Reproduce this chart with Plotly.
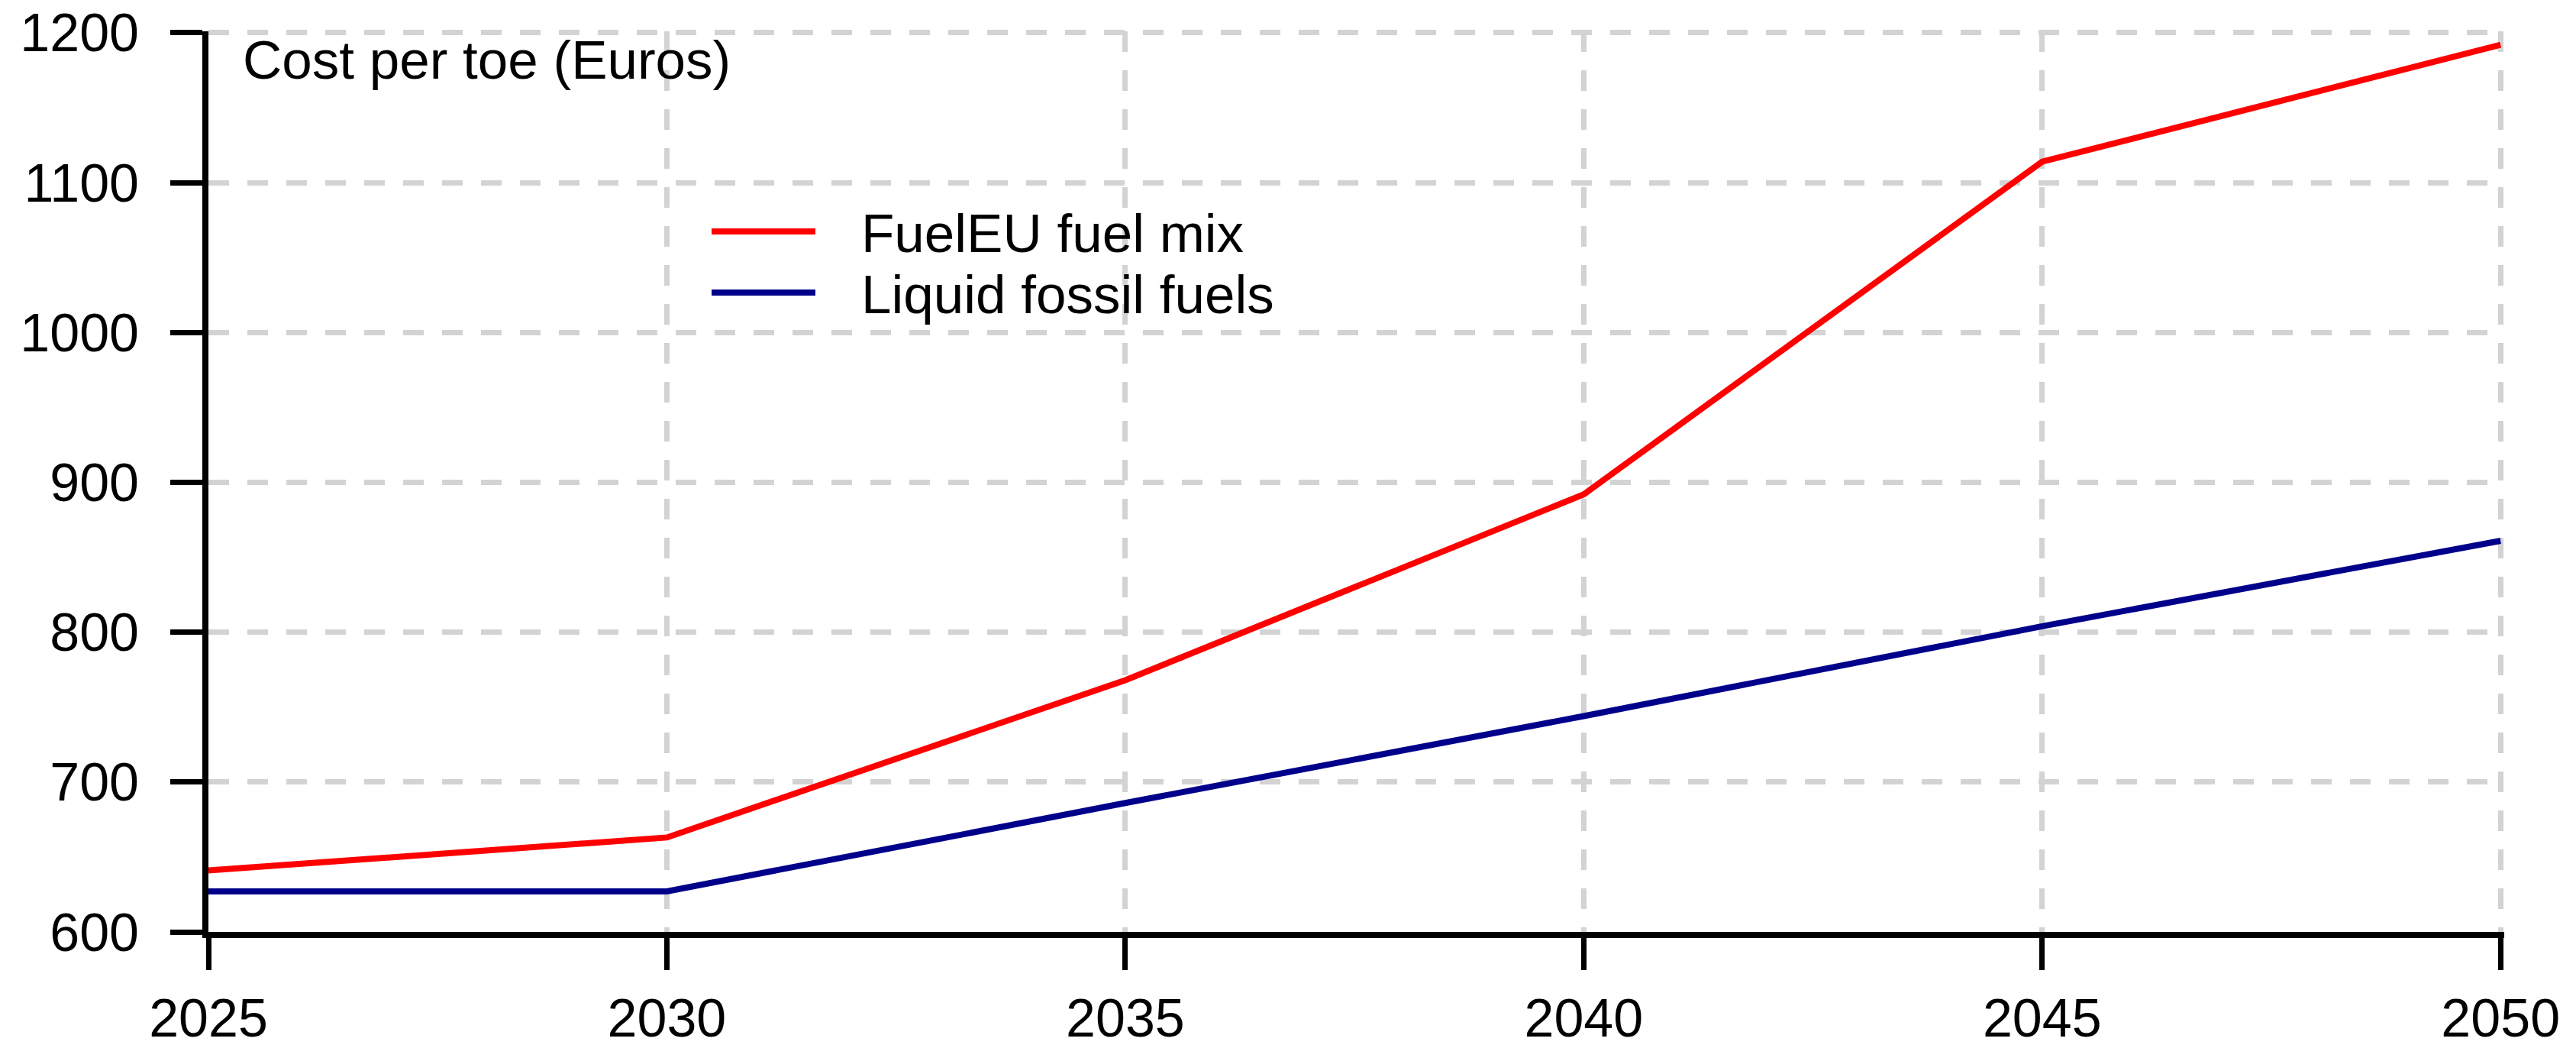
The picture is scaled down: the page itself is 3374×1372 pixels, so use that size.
import plotly.graph_objects as go

years = [2025, 2030, 2035, 2040, 2045, 2050]
fueleu_mix = [641, 663, 768, 892, 1114, 1192]
liquid_fossil = [627, 627, 686, 744, 804, 861]
series_names = ["FuelEU fuel mix", "Liquid fossil fuels"]
series_colors = ["#ff0000", "#00008b"]
x_ticks = [2025, 2030, 2035, 2040, 2045, 2050]
y_ticks = [600, 700, 800, 900, 1000, 1100, 1200]
y_title = "Cost per toe (Euros)"

W, H = 3374, 1372
L, R, T, B = 273, 94, 41, 152
FONT = "Arial, 'Liberation Sans', sans-serif"
FS_TICK = 70
FS_TEXT = 71

fig = go.Figure()
for name, vals, col in zip(series_names, [fueleu_mix, liquid_fossil], series_colors):
    fig.add_trace(go.Scatter(x=years, y=vals, mode="lines", name=name,
                             line=dict(color=col, width=8), showlegend=False))

axis_common = dict(
    showline=True, linecolor="black", linewidth=8,
    ticks="outside", ticklen=42, tickwidth=7, tickcolor="black",
    showgrid=True, gridcolor="#d3d3d3", gridwidth=7, griddash="27px,24px",
    zeroline=False, automargin=False,
    tickfont=dict(family=FONT, size=FS_TICK, color="black"),
)
# tiny range padding keeps the edge gridlines (1200 / 2050) visible as in the reference
fig.update_xaxes(range=[2025, 2050.04], tickvals=x_ticks, ticktext=[str(v) for v in x_ticks],
                 ticklabelstandoff=3, **axis_common)
fig.update_yaxes(range=[600, 1201], tickvals=y_ticks, ticktext=[str(v) for v in y_ticks],
                 ticklabelstandoff=27, **axis_common)

pw, ph = W - L - R, H - T - B
def px_x(p):
    return (p - L) / pw
def px_y(p):
    return (H - B - p) / ph

fig.add_annotation(text=y_title, xref="paper", yref="paper", x=px_x(316), y=px_y(78),
                   xanchor="left", yanchor="middle", showarrow=False,
                   font=dict(family=FONT, size=FS_TEXT, color="black"))

legend_y = [303, 383]
for name, col, ly in zip(series_names, series_colors, legend_y):
    fig.add_shape(type="line", xref="paper", yref="paper",
                  x0=px_x(932), x1=px_x(1068), y0=px_y(ly), y1=px_y(ly),
                  line=dict(color=col, width=8))
    fig.add_annotation(text=name, xref="paper", yref="paper", x=px_x(1126), y=px_y(ly + 2),
                       xanchor="left", yanchor="middle", showarrow=False,
                       font=dict(family=FONT, size=FS_TEXT, color="black"))

fig.update_layout(width=W, height=H, margin=dict(l=L, r=R, t=T, b=B, autoexpand=False),
                  paper_bgcolor="white", plot_bgcolor="white", showlegend=False)

fig.write_html("out.html", config={"displayModeBar": False},
               post_script="document.body.style.margin='0';document.body.style.overflow='hidden';")
